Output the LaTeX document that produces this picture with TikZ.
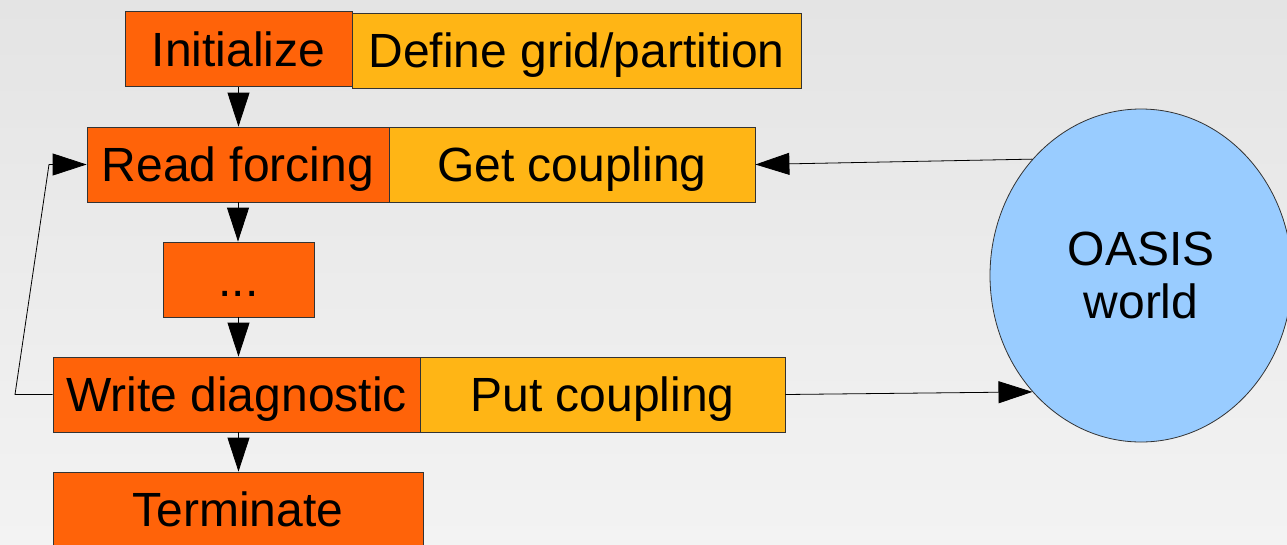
\documentclass[tikz,border=0pt]{standalone}
\usepackage{fontspec}
\setmainfont{Liberation Sans}
\usetikzlibrary{arrows.meta,shapes.geometric}
\definecolor{bgtop}{HTML}{E4E4E4}
\definecolor{bgbot}{HTML}{F3F3F3}
\definecolor{orng}{HTML}{FF6309}
\definecolor{gold}{HTML}{FFB515}
\definecolor{sky}{HTML}{99CCFF}
\begin{document}
\begin{tikzpicture}[x=1pt,y=-1pt,
  box/.style={draw=black!80,line width=0.8pt,inner sep=0pt,minimum height=75pt,
    font=\fontsize{48}{53}\selectfont,text height=34pt,text depth=0pt},
  obox/.style={box,fill=orng},
  gbox/.style={box,fill=gold},
  conn/.style={line width=0.8pt,draw=black,-{Triangle[length=34pt,width=22pt]}}]
\useasboundingbox (0,0) rectangle (1287,544);
\shade[top color=bgtop,bottom color=bgbot] (0,0) rectangle (1287,544);
% boxes
\node[obox,minimum width=227pt] (init) at (238.5,49) {Initialize};
\node[gbox,minimum width=449pt] (defg) at (576.5,50.5) {Define grid/partition};
\node[obox,minimum width=302pt] (read) at (238,164.5) {Read forcing};
\node[gbox,minimum width=366pt] (getc) at (572,164.5) {Get coupling};
\node[obox,minimum width=151pt] (dots) at (238.5,279.5) {...};
\node[obox,minimum width=367pt] (write) at (236.5,394.5) {Write diagnostic};
\node[gbox,minimum width=365pt] (putc) at (602.5,394.5) {Put coupling};
\node[obox,minimum width=370pt] (term) at (238,509.5) {Terminate};
% OASIS ellipse
\node[ellipse,draw=black!80,line width=0.8pt,fill=sky,inner sep=0pt,
  minimum width=302pt,minimum height=333pt] (oasis) at (1141,275.5) {};
\node[font=\fontsize{48}{53}\selectfont,align=center,inner sep=0pt] (oasistxt) at (oasis.center) {OASIS\\world};
% vertical flow
\draw[conn] (init.south) -- (init.south |- read.north);
\draw[conn] (read.south) -- (read.south |- dots.north);
\draw[conn] (dots.south) -- (dots.south |- write.north);
\draw[conn] (dots.south |- write.south) -- (dots.south |- term.north);
% coupling
\draw[conn] (oasis.133) -- (getc.east);
\draw[conn] (putc.east) -- (oasis.227);
% feedback loop
\coordinate (fb1) at (15,394.5);
\coordinate (fb2) at (49,164.5);
\draw[conn] (write.west) -- (fb1) -- (fb2) -- (read.west);
\end{tikzpicture}
\end{document}
